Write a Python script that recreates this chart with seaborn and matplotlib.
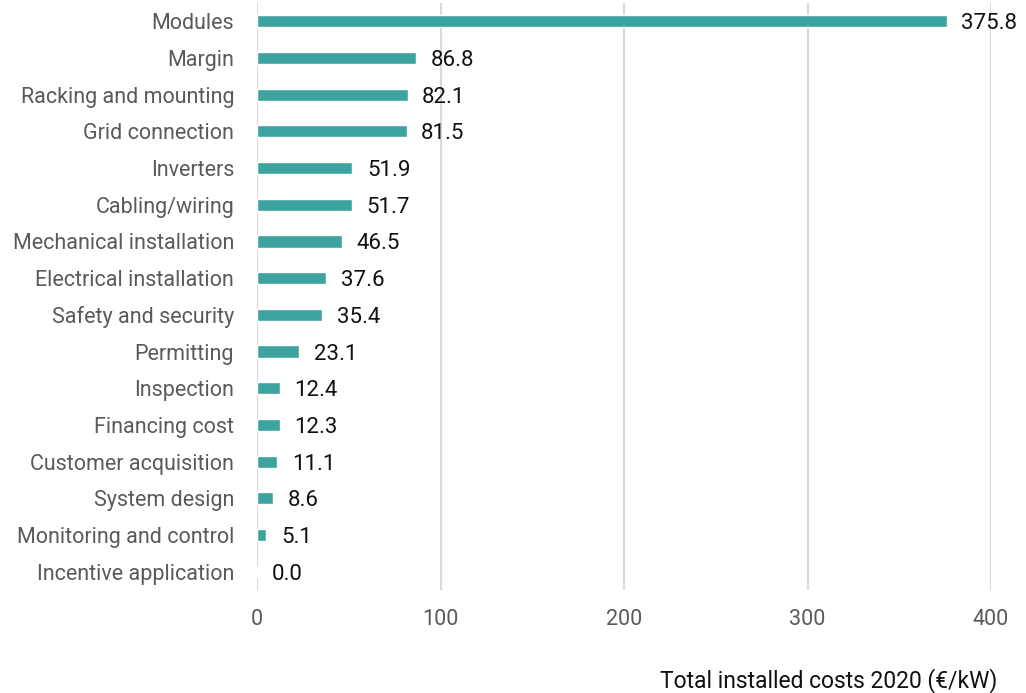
import matplotlib
matplotlib.use("Agg")
import matplotlib.pyplot as plt
import seaborn as sns
import pandas as pd

categories = ["Modules", "Margin", "Racking and mounting", "Grid connection", "Inverters",
              "Cabling/wiring", "Mechanical installation", "Electrical installation",
              "Safety and security", "Permitting", "Inspection", "Financing cost",
              "Customer acquisition", "System design", "Monitoring and control",
              "Incentive application"]
values = [375.8, 86.8, 82.1, 81.5, 51.9, 51.7, 46.5, 37.6, 35.4, 23.1, 12.4, 12.3, 11.1, 8.6, 5.1, 0.0]
xticks = [0, 100, 200, 300, 400]
xlabel = "Total installed costs 2020 (\u20ac/kW)"

sns.set_style("white")
plt.rcParams['font.family'] = ['Roboto', 'DejaVu Sans']

df = pd.DataFrame({"cat": categories, "val": values})

fig = plt.figure(figsize=(10.26, 6.93), dpi=100)
ax = fig.add_axes([257/1026, 1-590/693, (991-257)/1026, 587/693])

sns.barplot(data=df, x="val", y="cat", color="#3DA39E", saturation=1, width=0.33, ax=ax, zorder=3)

ax.set_xlim(0, 400)
ax.set_ylim(len(categories)-0.5, -0.5)
ax.set_xticks(xticks)
ax.xaxis.grid(True, color="#d9d9d9", linewidth=1.5, zorder=0)
ax.yaxis.grid(False)
for s in ax.spines.values():
    s.set_visible(False)
ax.tick_params(axis='both', length=0, labelcolor="#5a5a5a", labelsize=15.5)
ax.tick_params(axis='y', pad=16.5)
ax.tick_params(axis='x', pad=14)
for lbl in ax.get_yticklabels():
    lbl.set_verticalalignment('center_baseline')
ax.set_xlabel("")
ax.set_ylabel("")

for i, v in enumerate(values):
    ax.annotate(f"{v:.1f}", xy=(v, i), xytext=(10.5, 0), textcoords="offset points",
                va='center_baseline', ha='left', fontsize=16, color="#111111", annotation_clip=False)

fig.text(997/1026, 1-687/693, xlabel, ha='right', va='baseline', fontsize=16.5, color="#111111")

fig.savefig("out.png", dpi=100)
